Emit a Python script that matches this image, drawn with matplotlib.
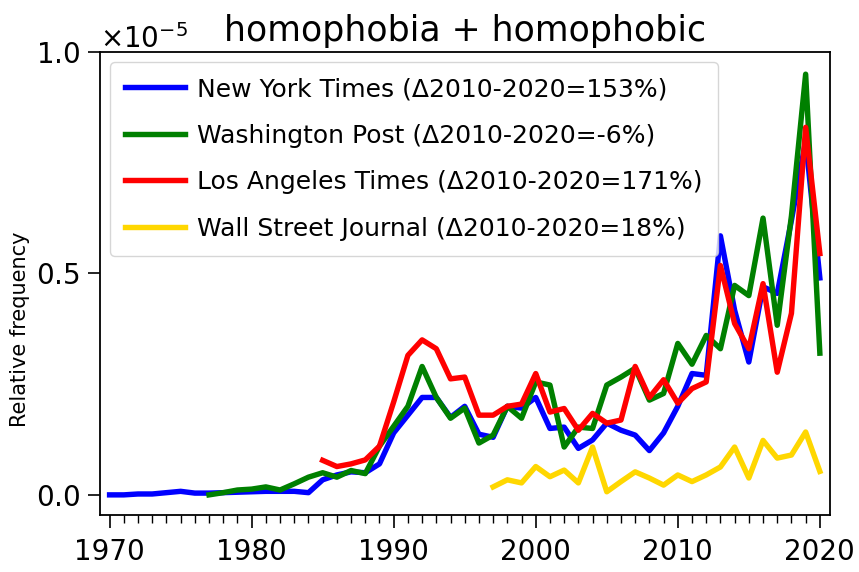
import matplotlib
matplotlib.use("Agg")
import matplotlib.pyplot as plt
from matplotlib.ticker import MultipleLocator, ScalarFormatter

# values, in units of 1e-5
nyt_years = list(range(1970, 2021))
nyt = [0.0, 0.0, 0.002, 0.002, 0.005, 0.008, 0.004, 0.004, 0.005, 0.006,
       0.007, 0.008, 0.008, 0.008, 0.005, 0.034, 0.045, 0.052, 0.05, 0.07,
       0.14, 0.18, 0.22, 0.22, 0.175, 0.2, 0.137, 0.13, 0.2, 0.196,
       0.22, 0.15, 0.153, 0.105, 0.124, 0.162, 0.146, 0.135, 0.1, 0.14,
       0.2, 0.274, 0.27, 0.585, 0.417, 0.3, 0.47, 0.455, 0.62, 0.8,
       0.49]

wp_years = list(range(1977, 2021))
wp = [0.0, 0.005, 0.011, 0.013, 0.018, 0.011, 0.025, 0.04, 0.05, 0.04,
      0.055, 0.048, 0.11, 0.155, 0.2, 0.29, 0.22, 0.173, 0.196, 0.117,
      0.135, 0.2, 0.173, 0.255, 0.248, 0.108, 0.153, 0.15, 0.248, 0.266,
      0.286, 0.214, 0.229, 0.342, 0.295, 0.36, 0.33, 0.473, 0.45, 0.625,
      0.383, 0.63, 0.95, 0.32]

lat_years = list(range(1985, 2021))
lat = [0.078, 0.064, 0.07, 0.079, 0.11, 0.21, 0.315, 0.35, 0.33, 0.262,
       0.266, 0.18, 0.18, 0.2, 0.205, 0.274, 0.187, 0.195, 0.146, 0.184,
       0.162, 0.169, 0.29, 0.22, 0.26, 0.207, 0.24, 0.255, 0.518, 0.387,
       0.33, 0.477, 0.277, 0.41, 0.83, 0.545]

wsj_years = list(range(1997, 2021))
wsj = [0.018, 0.034, 0.027, 0.064, 0.041, 0.056, 0.027, 0.108, 0.007, 0.03,
       0.052, 0.038, 0.022, 0.045, 0.03, 0.045, 0.063, 0.108, 0.038, 0.123,
       0.083, 0.09, 0.142, 0.053]

labels = ["New York Times (\u03942010-2020=153%)",
          "Washington Post (\u03942010-2020=-6%)",
          "Los Angeles Times (\u03942010-2020=171%)",
          "Wall Street Journal (\u03942010-2020=18%)"]
colors = ["blue", "green", "red", "gold"]

fig = plt.figure(figsize=(8.59, 5.72), dpi=100)
ax = fig.add_axes([0.116, 0.1, 0.85, 0.809])

series = [(nyt_years, nyt), (wp_years, wp), (lat_years, lat), (wsj_years, wsj)]
for (yrs, vals), lab, col in zip(series, labels, colors):
    ax.plot(yrs, [v * 1e-5 for v in vals], color=col, lw=3.9, label=lab)

ax.set_xlim(1969.3, 2020.7)
ax.set_ylim(-0.045e-5, 1.0e-5)
ax.xaxis.set_major_locator(MultipleLocator(10))
ax.xaxis.set_minor_locator(MultipleLocator(1))
ax.yaxis.set_major_locator(MultipleLocator(0.5e-5))
fmt = ScalarFormatter(useMathText=True)
fmt.set_powerlimits((-5, -5))  # force the x10^-5 offset
ax.yaxis.set_major_formatter(fmt)
ax.yaxis.get_offset_text().set_fontsize(20)

ax.tick_params(axis="both", which="major", labelsize=20, length=9, width=1.2, pad=5)
ax.tick_params(axis="x", which="major", pad=8)
ax.tick_params(axis="x", which="minor", length=6, width=1)
for s in ax.spines.values():
    s.set_linewidth(1.3)

ax.set_ylabel("Relative frequency", fontsize=15)
ax.yaxis.set_label_coords(-0.095, 0.4)
ax.set_title("homophobia + homophobic", fontsize=25, pad=8)

ax.legend(loc="upper left", fontsize=18, handlelength=2.4, labelspacing=0.9,
          borderpad=0.6, handletextpad=0.5, borderaxespad=0.4)

fig.savefig("out.png", dpi=100)
